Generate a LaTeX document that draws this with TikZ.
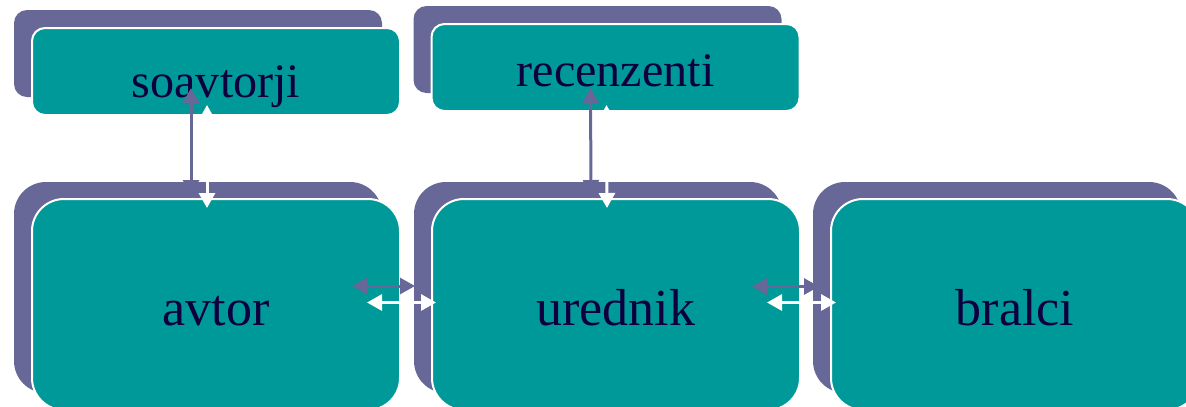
\documentclass[tikz,border=0pt]{standalone}
\usepackage{fontspec}
\setmainfont{Liberation Serif}
\usepackage{tikz}
\usetikzlibrary{arrows.meta, positioning, shadows}
\definecolor{backpurple}{RGB}{104,104,152}
\definecolor{frontteal}{RGB}{0,153,153}
\definecolor{labelnavy}{RGB}{14,0,62}
\tikzset{
  smallbox/.style={
    minimum width=3.68cm,
    minimum height=0.87cm,
    outer sep=0pt,
    inner sep=0pt,
    fill=frontteal,
    draw=white,
    line width=0.02cm,
    rounded corners=0.13cm,
    text=labelnavy,
    text depth=0cm,
    font=\fontsize{13.7}{16}\selectfont,
    general shadow={fill=backpurple, draw=none, shadow xshift=-0.18cm, shadow yshift=0.18cm}
  },
  bigbox/.style={
    minimum width=3.68cm,
    minimum height=2.11cm,
    outer sep=0pt,
    inner sep=0pt,
    fill=frontteal,
    draw=white,
    line width=0.02cm,
    rounded corners=0.32cm,
    text=labelnavy,
    text height=0.41cm,
    text depth=0cm,
    font=\fontsize{14.8}{18}\selectfont,
    general shadow={fill=backpurple, draw=none, shadow xshift=-0.18cm, shadow yshift=0.17cm}
  },
  purplearrow/.style={draw=backpurple, line width=0.03cm, <->},
  whitearrow/.style={draw=white, line width=0.03cm, <->}
}
\begin{document}
\begin{tikzpicture}[node distance=0.32cm, >={Triangle[width=0.16cm,length=0.15cm]}]
    \useasboundingbox (0,0) rectangle (11.86,4.06);
    \node (avtor) [bigbox] at (2.16,1.015) {avtor};
    \node (urednik) [bigbox, right=of avtor] {urednik};
    \node (bralci) [bigbox, right=0.31cm of urednik] {bralci};
    \node (soavtorji) [smallbox, text height=0.51cm, above=0.84cm of avtor] {soavtorji};
    \node (recenzenti) [smallbox, text height=0.37cm, above=0.88cm of urednik, xshift=-0.005cm] {recenzenti};
    % vertical links
    \draw [purplearrow] ([xshift=-0.25cm, yshift=0.27cm]soavtorji.south) -- ([xshift=-0.25cm, yshift=0.04cm]avtor.north);
    \draw [whitearrow] ([xshift=-0.09cm, yshift=0.1cm]soavtorji.south) -- ([xshift=-0.09cm, yshift=-0.09cm]avtor.north);
    \draw [purplearrow] ([xshift=-0.25cm, yshift=0.23cm]recenzenti.south) -- ([xshift=-0.25cm, yshift=0.04cm]urednik.north);
    \draw [whitearrow] ([xshift=-0.09cm, yshift=0.06cm]recenzenti.south) -- ([xshift=-0.09cm, yshift=-0.09cm]urednik.north);
    % horizontal links
    \draw [purplearrow] ([xshift=-0.48cm, yshift=0.185cm]avtor.east) -- ([xshift=-0.17cm, yshift=0.185cm]urednik.west);
    \draw [whitearrow] ([xshift=-0.33cm, yshift=0.02cm]avtor.east) -- ([xshift=0.04cm, yshift=0.02cm]urednik.west);
    \draw [purplearrow] ([xshift=-0.48cm, yshift=0.18cm]urednik.east) -- ([xshift=-0.12cm, yshift=0.18cm]bralci.west);
    \draw [whitearrow] ([xshift=-0.33cm, yshift=0.02cm]urednik.east) -- ([xshift=0.05cm, yshift=0.02cm]bralci.west);
\end{tikzpicture}
\end{document}
